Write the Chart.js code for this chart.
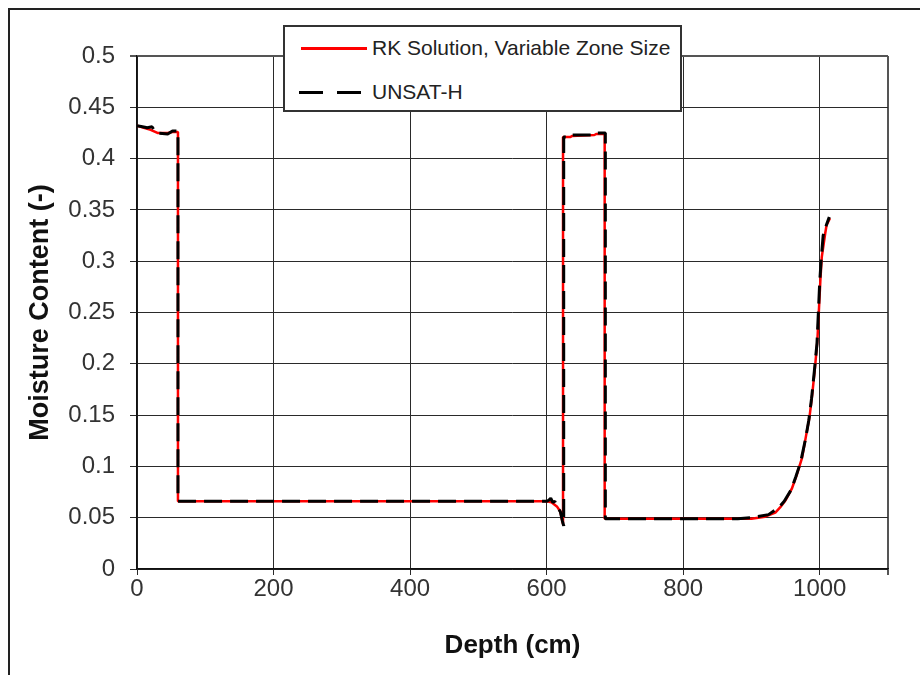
<!DOCTYPE html>
<html>
<head>
<meta charset="utf-8">
<script src="https://cdn.jsdelivr.net/npm/chart.js@4.4.1/dist/chart.umd.min.js"></script>
<style>
  body { margin: 0; background: #fff; }
  #wrap { position: relative; width: 920px; height: 675px; overflow: hidden; font-family: "Liberation Sans", Arial, sans-serif; }
  #frame { position: absolute; left: 8px; top: 8px; width: 1000px; height: 1000px; border-left: 2px solid #222; border-top: 2px solid #222; }
  #chart { position: absolute; left: 0; top: 0; }
  #legend { position: absolute; left: 283px; top: 25px; width: 395px; height: 83px; border: 2px solid #333; background: #fff; }
  .row { position: absolute; left: 0; height: 24px; font-size: 21px; color: #222; }
  .row span { position: absolute; left: 87px; top: 0; white-space: nowrap; line-height: 24px; }
  .sample { position: absolute; left: 16px; width: 66px; height: 3px; top: 11px; }
</style>
</head>
<body>
<div id="wrap">
  <div id="frame"></div>
  <canvas id="chart" width="920" height="675"></canvas>
  <div id="legend">
    <div class="row" style="top:9px"><div class="sample" style="background:#ff0000;height:2.5px"></div><span>RK Solution, Variable Zone Size</span></div>
    <div class="row" style="top:53px"><div class="sample" style="background:repeating-linear-gradient(to right,#000 0 24px,transparent 24px 38px);left:14px;width:62px"></div><span>UNSAT-H</span></div>
  </div>
</div>
<script>
// ── Data ──────────────────────────────────────────────────────
const rkDepth = [0, 10, 20, 30, 45, 52, 60, 60, 200, 400, 600, 607, 615, 620, 622.5, 624, 624, 635, 637, 670, 673, 685, 685,
  800, 880, 900, 920, 935, 942, 950, 959, 966, 974, 980, 985, 989, 993, 996.5, 999, 1001, 1003, 1008, 1010, 1015];
const rkTheta = [0.432, 0.430, 0.428, 0.425, 0.425, 0.426, 0.426, 0.066, 0.066, 0.066, 0.066, 0.065, 0.061, 0.056, 0.048, 0.044, 0.421, 0.421, 0.422, 0.423, 0.424, 0.424, 0.049,
  0.049, 0.049, 0.049, 0.051, 0.055, 0.060, 0.067, 0.078, 0.091, 0.108, 0.130, 0.148, 0.170, 0.196, 0.222, 0.255, 0.282, 0.304, 0.327, 0.335, 0.342];

const unsatDepth = [0, 8, 15, 22, 28, 45, 52, 60, 60, 600, 603, 606, 609, 612, 616, 620, 623, 625, 625, 636, 638, 670, 673, 686, 686,
  880, 900, 925, 940, 948, 958, 965, 972, 979, 984, 988, 992, 996, 998, 1000, 1002, 1005, 1009, 1014];
const unsatTheta = [0.432, 0.431, 0.430, 0.431, 0.425, 0.424, 0.427, 0.427, 0.066, 0.066, 0.067, 0.069, 0.065, 0.066, 0.060, 0.056, 0.047, 0.042, 0.421, 0.421, 0.423, 0.423, 0.425, 0.425, 0.049,
  0.049, 0.050, 0.053, 0.060, 0.066, 0.077, 0.090, 0.104, 0.126, 0.145, 0.166, 0.192, 0.220, 0.250, 0.280, 0.300, 0.325, 0.334, 0.343];

const xTickValues = [0, 200, 400, 600, 800, 1000, 1100];
const xTickLabels = ["0", "200", "400", "600", "800", "1000", ""];
const yTickLabels = ["0", "0.05", "0.1", "0.15", "0.2", "0.25", "0.3", "0.35", "0.4", "0.45", "0.5"];

const toPoints = (xs, ys) => xs.map((x, i) => ({ x, y: ys[i] }));

const FONT = "'Liberation Sans', Arial, sans-serif";
const GRID = "#2a2a2a";

new Chart(document.getElementById("chart"), {
  type: "line",
  data: {
    datasets: [
      {
        label: "UNSAT-H",
        data: toPoints(unsatDepth, unsatTheta),
        borderColor: "#000",
        borderWidth: 3,
        borderDash: [18, 8],
        borderJoinStyle: "bevel",
        pointRadius: 0,
        tension: 0,
        order: 0,
      },
      {
        label: "RK Solution, Variable Zone Size",
        data: toPoints(rkDepth, rkTheta),
        borderColor: "#ff0000",
        borderWidth: 2.5,
        borderJoinStyle: "bevel",
        pointRadius: 0,
        tension: 0,
        order: 1,
      },
    ],
  },
  options: {
    responsive: false,
    animation: false,
    layout: { padding: { left: 0, top: 56, right: 32, bottom: 0 } },
    plugins: { legend: { display: false }, tooltip: { enabled: false } },
    scales: {
      x: {
        type: "linear",
        min: 0,
        max: 1100,
        afterBuildTicks: (s) => { s.ticks = xTickValues.map((v) => ({ value: v })); },
        afterFit: (s) => { s.height = 106; },
        grid: {
          color: (c) => (c.index === xTickValues.length - 1 ? "#555" : GRID),
          lineWidth: (c) => (c.index === xTickValues.length - 1 ? 2 : 1),
          tickLength: 6,
        },
        border: { color: "#111", width: 1.5 },
        ticks: {
          color: "#333",
          padding: 0,
          maxRotation: 0,
          font: { family: FONT, size: 24 },
          callback: (v, i) => xTickLabels[i],
        },
        title: {
          display: true,
          text: "Depth (cm)",
          color: "#111",
          font: { family: FONT, size: 26, weight: "bold" },
          padding: { top: 0, bottom: 14 },
        },
      },
      y: {
        min: 0,
        max: 0.5,
        afterBuildTicks: (s) => { s.ticks = yTickLabels.map((t, i) => ({ value: i * 0.05 })); },
        afterFit: (s) => { s.width = 137; },
        grid: {
          color: (c) => (c.index === yTickLabels.length - 1 ? "#555" : GRID),
          lineWidth: (c) => (c.index === yTickLabels.length - 1 ? 2 : 1),
          tickLength: 7,
        },
        border: { color: "#111", width: 1.5 },
        ticks: {
          color: "#333",
          padding: 15,
          font: { family: FONT, size: 24 },
          callback: (v, i) => yTickLabels[i],
        },
        title: {
          display: true,
          text: "Moisture Content (-)",
          color: "#111",
          font: { family: FONT, size: 27, weight: "bold" },
          padding: { top: 24, bottom: 0 },
        },
      },
    },
  },
});
</script>
</body>
</html>
